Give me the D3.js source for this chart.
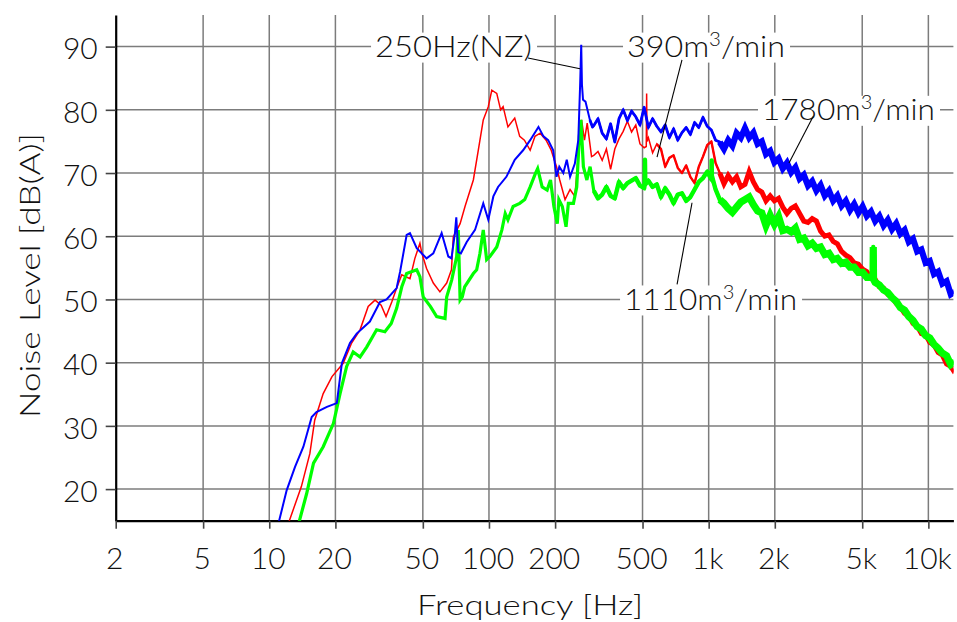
<!DOCTYPE html>
<html><head><meta charset="utf-8">
<script src="https://cdn.jsdelivr.net/npm/d3@7/dist/d3.min.js"></script>
<style>body{margin:0;background:#fff}svg{display:block}</style>
</head><body><svg id="c" width="957" height="622"></svg>
<script>
// ---------- data ----------
const xTicks = [2,5,10,20,50,100,200,500,1000,2000,5000,10000];
const xTickLabels = ["2","5","10","20","50","100","200","500","1k","2k","5k","10k"];
const yTicks = [20,30,40,50,60,70,80,90];

// shared FFT-like frequency grid for the upper band (Hz)
const hfFreq = [300,313.5,327.6,342.4,357.8,373.9,390.7,408.3,426.6,445.8,465.9,486.8,508.7,531.6,555.6,580.6,606.7,634.0,662.5,692.3,723.5,756.0,790.1,825.6,862.8,901.6,942.2,984.6,1028.9,1075.2,1123.6,1174.2,1227.0,1282.2,1339.9,1400.2,1463.2,1529.1,1597.9,1669.8,1744.9,1823.4,1905.5,1991.2,2080.8,2174.5,2272.3,2374.6,2481.4,2593.1,2709.8,2831.7,2959.1,3092.3,3231.4,3376.8,3528.8,3687.6,3853.5,4026.9,4208.1,4397.5,4595.4,4802.2,5018.3,5244.1,5480.1,5726.7,5984.4,6253.7,6535.1,6829.2,7136.5,7457.7,7793.3,8144.0,8510.5,8893.5,9293.7,9711.9,10149,10606,11083,11582,12103,12648,13217];

// 1780 m3/min (blue)
const blueLow = [[11.0,14.5],[12.0,19.8],[13.1,23.5],[14.3,26.7],[15.6,31.4],[16.4,32.2],[18.3,33.0],[20.3,33.6],[21.4,39.9],[23.3,43.1],[25.0,44.6],[28.7,46.5],[31.9,49.6],[34.2,50.0],[38.0,51.8],[39.4,54.4],[42.2,60.2],[43.7,60.5],[46.9,58.1],[52.0,56.5],[55.8,57.3],[60.9,60.5],[65.3,56.8],[67.5,56.5],[70.0,60.5],[71.0,63.0],[72.5,57.5],[74.5,57.3],[79.2,59.1],[86.4,61.0],[94.2,65.2],[99.3,62.6],[104.7,66.3],[110,67.8],[120,69.4],[131,72.1],[143,73.6],[154,75.2],[168,77.3],[177,75.8],[186,75.2],[196,73.6],[203,69.4],[209,71.0],[218,70.0],[226,72.1],[234,69.4],[246,71.5],[255,75.2],[260,84.0],[263,90.3],[265,84.0],[268,81.6],[275,81.3],[288,78.4],[296,77.3]];
const blueHigh = [77.5,78.6,76.3,75.4,77.8,74.9,78.6,80.0,78.3,79.8,
78.9,77.6,80.4,77.2,78.6,77.4,76.5,77.6,75.6,77.0,
75.2,76.4,77.2,76.1,78.0,77.2,78.8,77.4,76.8,75.2,
74.9,73.8,75.2,74.3,76.3,75.6,77.1,75.6,76.4,74.6,
75.0,73.0,73.5,71.7,72.3,70.7,71.6,70.1,70.9,69.1,
69.7,68.0,68.7,67.2,68.1,66.4,67.2,65.6,66.4,64.8,
65.6,64.1,65.1,63.7,64.7,63.2,63.9,62.4,63.2,61.7,
62.6,61.1,62.0,60.4,61.0,59.1,59.6,57.6,57.9,55.8,
56.1,54.0,54.4,52.5,52.9,50.8,51.2];
const blueSpikes = [];

// 390 m3/min (red)
const redLow = [[12.2,14.5],[14.0,20.4],[15.3,25.6],[16.1,30.9],[17.6,35.1],[19.3,37.8],[21.7,39.9],[23.7,43.1],[25.9,45.2],[28.2,48.9],[30.3,49.9],[32.3,49.1],[34.0,47.3],[36.1,49.6],[38.0,51.8],[40.1,53.9],[43.7,53.3],[46.0,56.5],[48.5,58.9],[49.5,57.3],[52.0,54.9],[55.8,52.6],[59.8,51.2],[64.2,52.6],[67.5,54.7],[68.8,59.9],[73.9,62.0],[77.8,64.7],[84.9,68.9],[89.4,73.6],[94.2,78.4],[99.3,80.5],[103,83.1],[108.5,82.6],[113,80.0],[116,80.5],[122,77.3],[131,78.7],[138,75.8],[145,75.2],[154,73.6],[162,75.8],[171,76.3],[182,75.2],[192,73.6],[203,71.0],[210,68.9],[222,65.8],[234,67.4],[246,66.3],[255,72.6],[264,78.4],[272,75.2],[280,77.9],[293,72.6]];
const redHigh = [72.8,73.4,72.0,73.8,70.6,73.8,75.4,76.6,78.2,76.5,
77.6,74.6,74.0,75.6,73.2,74.6,73.8,71.0,72.4,72.8,
70.8,70.0,71.2,69.4,68.4,71.0,72.6,74.4,75.0,71.6,
70.0,68.3,69.6,68.6,69.4,67.8,68.2,70.2,68.6,67.4,
67.0,65.6,66.4,65.6,66.0,64.6,63.6,64.4,64.8,63.6,
62.4,62.2,62.8,62.4,60.8,60.0,60.2,59.2,58.8,57.6,
57.0,56.6,55.8,55.6,54.8,54.4,53.4,53.2,52.0,51.8,
50.8,50.4,49.4,48.8,47.8,47.4,46.2,45.8,44.6,44.4,
43.2,42.8,41.6,41.2,39.8,39.4,38.4];
const redSpikes = [[520,74.2],[522,82.6],[524,75.0]];

// 1110 m3/min (green)
const greenLow = [[13.6,14.5],[14.8,19.3],[15.9,24.1],[17.6,26.7],[19.6,30.4],[21.0,35.1],[22.5,39.4],[24.1,41.7],[25.9,40.9],[27.8,42.5],[30.8,45.2],[33.6,44.9],[35.9,46.2],[38.0,48.6],[40.1,52.0],[42.2,54.1],[46.9,54.7],[48.5,53.6],[50.2,50.4],[54.1,48.9],[57.8,47.3],[63.1,47.0],[64.2,50.4],[67.7,53.1],[71.3,56.8],[72.5,61.0],[73.9,49.9],[75.6,50.4],[77.5,52.0],[84.9,54.1],[87.9,54.7],[91.0,57.3],[94.2,61.0],[97.6,56.3],[101,56.8],[108.5,58.3],[114.5,61.0],[118.6,63.6],[122,62.6],[128.8,64.7],[138,65.2],[145.5,65.8],[154,67.8],[162.6,69.9],[166.6,70.7],[174.6,67.8],[184,67.3],[190.6,68.9],[197.5,64.7],[204.6,62.0],[208,65.8],[215.7,64.7],[224.3,61.5],[229.8,65.2],[242.4,65.2],[250.9,67.8],[257.9,75.8],[262,78.4],[269,71.0],[279,68.9],[288.6,71.0]];
const greenHigh = [67.2,66.0,66.6,67.8,66.4,66.0,68.6,67.6,68.4,68.8,
69.2,68.0,67.6,68.8,67.8,68.2,66.2,67.6,66.6,65.2,
66.6,66.8,65.6,66.2,67.4,68.6,69.2,70.2,69.0,67.4,
65.8,65.2,64.4,63.8,64.6,65.4,65.8,66.2,65.0,64.0,
63.7,61.7,63.3,61.9,63.1,60.9,61.1,60.7,61.3,59.5,
59.7,58.5,58.9,58.1,58.3,57.1,57.3,56.3,56.5,55.7,
55.9,55.1,55.1,54.3,54.3,53.5,53.5,52.7,52.3,51.5,
51.1,50.3,49.7,48.7,48.3,47.3,46.7,45.7,45.3,44.3,
43.9,42.9,42.3,41.5,41.1,39.7,40.1];
const greenSpikes = [[511,68.0],[513,72.1],[515,68.2],[1030,70.0],[1032,72.0],[1034,69.6],[5600,53.6],[5614,58.3],[5628,53.2]];

// annotations: text, label anchor (Hz, dB), leader from/to (Hz, dB)
const annLabels = ["250Hz(NZ)", "390", "1780", "1110"];
const annHasUnit = [false, true, true, true];
const annTextHz = [30.3, 425, 1749, 412];
const annTextDb = [90, 90, 80, 50];
const annLeadFrom = [[150.6,88.2],[756,87.9],[2985,78.9],[840,65.3]];
const annLeadTo = [[259.7,86.5],[582,72.5],[2321,71.6],[718,52.4]];
const annWidth = [157, 158, 173, 173];

// ---------- drawing ----------
const svg = d3.select("#c");
const W = 957, H = 622;
const pLeft = 115.7, pRight = 953.4, pTop = 15, pBottom = 520.7;
const x = d3.scaleLog().domain([2, 13000]).range([pLeft, pRight]);
const y = d3.scaleLinear().domain([15, 95]).range([pBottom, pTop]);
const FONT = "Lato, 'Open Sans', 'DejaVu Sans', sans-serif";

svg.append("rect").attr("width", W).attr("height", H).attr("fill", "#fff");

svg.append("defs").append("clipPath").attr("id", "plotclip")
  .append("rect").attr("x", pLeft).attr("y", pTop).attr("width", pRight - pLeft).attr("height", pBottom - pTop);

// grid
const grid = svg.append("g").attr("stroke", "#7c7c7c").attr("stroke-width", 1.5);
grid.selectAll("line.v").data(xTicks.slice(1)).join("line").attr("class", "v")
  .attr("x1", d => x(d)).attr("x2", d => x(d)).attr("y1", pTop).attr("y2", pBottom);
grid.selectAll("line.h").data(yTicks).join("line").attr("class", "h")
  .attr("x1", pLeft).attr("x2", pRight).attr("y1", d => y(d)).attr("y2", d => y(d));

// axes
const yAxis = d3.axisLeft(y).tickValues(yTicks).tickSize(10).tickSizeOuter(0).tickPadding(8);
const gy = svg.append("g").attr("transform", `translate(${pLeft},0)`).call(yAxis);
const xAxis = d3.axisBottom(x).tickValues(xTicks).tickFormat((d, i) => xTickLabels[i]).tickSize(8).tickSizeOuter(0).tickPadding(19);
const gx = svg.append("g").attr("transform", `translate(0,${pBottom})`).call(xAxis);
[gx, gy].forEach(g => {
  g.select(".domain").attr("stroke", "#000").attr("stroke-width", 2.2);
  g.selectAll(".tick line").attr("stroke", "#444").attr("stroke-width", 1.6);
  g.selectAll(".tick text").attr("font-family", FONT).attr("font-weight", 300)
    .attr("font-size", 30).attr("fill", "#111");
});
gy.selectAll(".tick text").attr("dy", "0.41em");
gx.selectAll(".tick text").attr("dx", -1.5);

// axis titles
svg.append("text").attr("x", 417).attr("y", 615).attr("textLength", 226).attr("lengthAdjust", "spacingAndGlyphs")
  .attr("font-family", FONT).attr("font-weight", 300).attr("font-size", 27).attr("fill", "#111").text("Frequency [Hz]");
svg.append("text").attr("transform", "translate(40,418) rotate(-90)").attr("textLength", 285).attr("lengthAdjust", "spacingAndGlyphs")
  .attr("font-family", FONT).attr("font-weight", 300).attr("font-size", 27).attr("fill", "#111").text("Noise Level [dB(A)]");

// annotation backgrounds
const ann = annLabels.map((t, i) => ({t, unit: annHasUnit[i], hz: annTextHz[i], db: annTextDb[i], from: annLeadFrom[i], to: annLeadTo[i], w: annWidth[i]}));
svg.append("g").selectAll("rect").data(ann).join("rect")
  .attr("x", d => x(d.hz) - 4).attr("y", d => y(d.db) - 14)
  .attr("width", d => d.w + 9).attr("height", 30).attr("fill", "#fff");

// series
function build(low, high, spikes) {
  const pts = low.concat(hfFreq.map((f, i) => [f, high[i]]), spikes);
  return pts.sort((a, b) => a[0] - b[0]);
}
const series = [
  {pts: build(redLow, redHigh, redSpikes), color: "#ff0000", w: 1.5, hfFrom: 560, hfW: 2.4, bandW: 5.0},
  {pts: build(greenLow, greenHigh, greenSpikes), color: "#00ff00", w: 3.2, hfFrom: 300, hfW: 4.4, bandW: 7.2},
  {pts: build(blueLow, blueHigh, blueSpikes), color: "#0000ff", w: 2.0, hfFrom: 280, hfW: 2.8, bandW: 6.2},
];
const line = d3.line().x(d => x(d[0])).y(d => y(d[1]));
const plot = svg.append("g").attr("clip-path", "url(#plotclip)");
const sg = plot.selectAll("g").data(series).join("g");
sg.append("path")
  .attr("d", d => line(d.pts)).attr("fill", "none")
  .attr("stroke", d => d.color).attr("stroke-width", d => d.w).attr("stroke-linejoin", "miter");
sg.append("path")
  .attr("d", d => line(d.pts.filter(p => p[0] >= d.hfFrom && !(p[0] > 250 && p[0] < 270)))).attr("fill", "none")
  .attr("stroke", d => d.color).attr("stroke-width", d => d.hfW).attr("stroke-linejoin", "round");
// dense noisy band above ~900 Hz
sg.append("path")
  .attr("d", d => line(d.pts.filter(p => p[0] >= 1100))).attr("fill", "none")
  .attr("stroke", d => d.color).attr("stroke-width", d => d.bandW).attr("stroke-linejoin", "miter");

// leader lines
svg.append("g").selectAll("line").data(ann).join("line")
  .attr("x1", d => x(d.from[0])).attr("y1", d => y(d.from[1]))
  .attr("x2", d => x(d.to[0])).attr("y2", d => y(d.to[1]))
  .attr("stroke", "#000").attr("stroke-width", 1.1);

// annotation text
const at = svg.append("g").selectAll("text").data(ann).join("text")
  .attr("x", d => x(d.hz)).attr("y", d => y(d.db) + 10.5)
  .attr("textLength", d => d.w).attr("lengthAdjust", "spacingAndGlyphs")
  .attr("font-family", FONT).attr("font-weight", 300).attr("font-size", 30).attr("fill", "#111");
at.each(function(d) {
  const t = d3.select(this);
  if (!d.unit) { t.text(d.t); return; }
  t.append("tspan").text(d.t + "m");
  t.append("tspan").attr("font-size", 19).attr("dy", -11).text("3");
  t.append("tspan").attr("dy", 11).text("/min");
});
</script>
</body></html>
